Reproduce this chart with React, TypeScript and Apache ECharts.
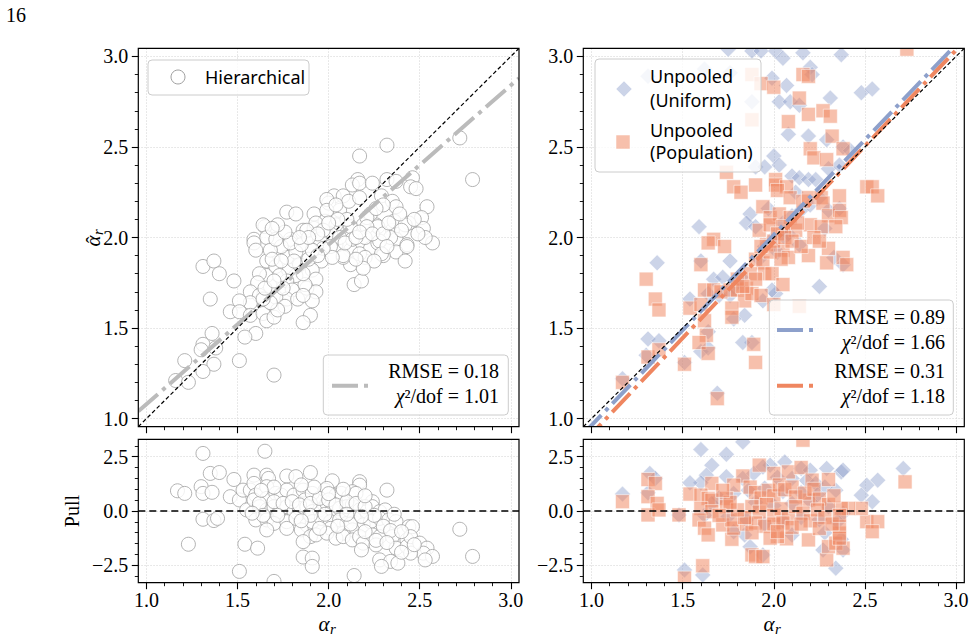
import { useEffect, useRef } from "react";
import * as echarts from "echarts";

// ---- axes -------------------------------------------------------------
const alphaRange = [0.955, 3.045];
const pullRange = [-3.3, 3.3];
const alphaTicks = [1.0, 1.5, 2.0, 2.5, 3.0];
const pullTicks = [-2.5, 0.0, 2.5];

// ---- hierarchical model: estimate vs truth, and pull -------------------
const hierEstimate = [
  [2.72, 2.55], [2.32, 2.51], [2.17, 2.45], [2.79, 2.32],
  [2.16, 2.32], [2.13, 2.29], [2.17, 2.3], [2.24, 2.3], [2.32, 2.32], [2.37, 2.31], [2.46, 2.33], [2.45, 2.28], [2.48, 2.27],
  [2.03, 2.23], [2.08, 2.23], [2.0, 2.19], [2.06, 2.15], [2.11, 2.2], [2.17, 2.22], [2.29, 2.23], [2.35, 2.2], [2.37, 2.17],
  [2.54, 2.17], [2.51, 2.11], [1.77, 2.14], [1.82, 2.13], [1.92, 2.13], [1.98, 2.09], [2.3, 2.18], [2.26, 2.07], [2.23, 2.13],
  [2.44, 2.08], [2.52, 2.05], [1.65, 2.06], [1.64, 2.07], [1.86, 2.04], [2.04, 2.07], [2.19, 2.07], [2.35, 2.04], [1.59, 1.99],
  [1.66, 2.0], [1.79, 1.99], [2.57, 1.97], [1.92, 2.05], [2.01, 2.02], [2.12, 2.06], [2.27, 2.06], [2.53, 2.0], [2.37, 1.99],
  [2.43, 1.96], [2.37, 1.92], [2.42, 1.87], [2.3, 1.9], [2.23, 1.94], [2.27, 1.97], [2.12, 1.93], [2.17, 1.91], [2.12, 1.85],
  [2.14, 1.74], [2.18, 1.76], [2.04, 1.96], [2.08, 1.89], [1.96, 1.98], [1.96, 1.87], [1.91, 1.82], [1.93, 1.77], [1.88, 1.72],
  [1.93, 1.7], [1.91, 1.65], [1.9, 1.57], [1.86, 1.53], [1.87, 1.74], [1.82, 1.79], [1.78, 1.82], [1.77, 1.76], [1.8, 1.71],
  [1.77, 1.66], [1.71, 1.67], [1.68, 1.73], [1.66, 1.79], [1.66, 1.87], [1.71, 1.84], [1.77, 1.89], [1.82, 1.92], [1.74, 1.95],
  [1.68, 1.93], [1.71, 1.99], [1.79, 1.97], [1.59, 1.97], [1.6, 1.93], [1.62, 1.8], [1.61, 1.75], [1.57, 1.7], [1.62, 1.68],
  [1.57, 1.64], [1.51, 1.65], [1.46, 1.59], [1.51, 1.59], [1.57, 1.57], [1.64, 1.58], [1.66, 1.54], [1.7, 1.56], [1.6, 1.47],
  [1.54, 1.45], [1.48, 1.76], [1.31, 1.84], [1.37, 1.87], [1.4, 1.8], [1.35, 1.66], [1.36, 1.47], [1.31, 1.41], [1.3, 1.38],
  [1.38, 1.39], [1.37, 1.3], [1.31, 1.26], [1.21, 1.32], [1.16, 1.21], [1.23, 1.2], [1.51, 1.32], [1.7, 1.24],
  [2.1, 2.1], [2.21, 2.11], [2.26, 2.16], [2.36, 2.09], [2.42, 2.07], [2.21, 2.06], [2.34, 2.0], [2.28, 1.98], [2.2, 2.0],
  [2.13, 1.99], [2.06, 2.0], [2.43, 1.95], [2.29, 1.91], [2.2, 1.89], [2.08, 1.9], [2.01, 1.95], [2.02, 1.89], [1.95, 1.99],
  [1.97, 1.94], [1.99, 2.21], [1.99, 2.15], [2.04, 2.18], [1.93, 2.08], [1.88, 2.04], [1.97, 2.04],
  [1.69, 1.88], [1.73, 1.79], [1.75, 1.72], [1.84, 1.85], [1.86, 1.8], [1.89, 1.88], [1.91, 1.93], [1.94, 1.9], [1.85, 1.96],
  [1.81, 1.87], [1.76, 1.62], [1.72, 1.6], [1.68, 1.64], [1.64, 1.66], [1.83, 1.66], [1.86, 1.68], [2.09, 1.97], [2.15, 2.0],
  [2.17, 2.03], [2.24, 2.02], [2.3, 2.02], [2.33, 2.08], [2.39, 2.13], [2.4, 2.04], [2.47, 2.1], [2.49, 2.02], [2.32, 1.95],
  [2.25, 1.87], [2.19, 1.83], [2.15, 1.88], [2.05, 2.1], [2.0, 2.08], [1.94, 2.02], [1.89, 2.0], [1.84, 2.0], [1.76, 2.03],
  [1.72, 2.07], [1.69, 2.05], [1.65, 1.72], [1.7, 1.76], [1.74, 1.87],
];

const hierPull = [
  [1.59, 1.65], [1.66, 1.65], [1.67, 1.5], [1.77, 1.61], [1.82, 1.58], [1.9, 1.77], [2.02, 1.39], [2.17, 1.35], [2.17, 1.19],
  [1.17, 0.93], [1.21, 0.81], [1.3, 1.12], [1.31, 0.81], [1.36, 0.86], [1.48, 1.45], [1.46, 0.66], [1.51, 0.51], [1.53, 0.96],
  [1.57, 0.96], [1.59, 1.27], [1.6, 0.73], [1.66, 1.12], [1.66, 0.58], [1.71, 0.81], [1.74, 0.73], [1.77, 0.96], [1.81, 0.73],
  [1.86, 0.96], [1.87, 0.51], [1.91, 0.81], [1.98, 0.96], [1.99, 1.04], [2.04, 0.73], [2.07, 0.81], [2.11, 0.66], [2.13, 0.89],
  [2.15, 0.81], [2.24, 0.43], [2.32, 0.96],
  [1.55, 0.05], [1.59, 0.51], [1.62, 0.2], [1.66, 0.05], [1.7, 0.2], [1.73, -0.03], [1.77, 0.2], [1.81, -0.03], [1.84, 0.12],
  [1.88, 0.2], [1.91, -0.03], [1.95, 0.05], [1.99, 0.35], [2.02, 0.05], [2.06, 0.12], [2.1, 0.2], [2.13, 0.28], [2.17, 0.05],
  [2.21, -0.03], [2.24, 0.2], [2.28, -0.03], [2.31, 0.05],
  [1.31, -0.38], [1.37, -0.44], [1.39, -0.34], [1.6, -0.41], [1.66, -0.41], [1.7, -0.57], [1.77, -0.49], [1.82, -0.34],
  [1.88, -0.64], [1.91, -0.49], [1.96, -0.34], [2.01, -0.49], [2.06, -0.41], [2.1, -0.57], [2.14, -0.34], [2.19, -0.64],
  [2.23, -0.49], [2.28, -0.34], [2.33, -0.41], [2.37, -0.49], [2.44, -0.72], [2.46, -0.72], [2.13, -0.87], [2.08, -1.02],
  [2.01, -0.8], [1.77, -0.8], [1.66, -0.87],
  [1.85, -0.87], [1.9, -1.18], [1.93, -1.1], [1.99, -1.02], [2.04, -1.25], [2.08, -1.18], [2.13, -1.33], [2.17, -1.18],
  [2.19, -1.48], [2.24, -1.1], [2.28, -1.18], [2.26, -1.56], [2.35, -1.18], [2.37, -1.71], [2.43, -1.33], [2.43, -1.64],
  [2.45, -1.18], [2.5, -1.48], [2.54, -1.71], [2.52, -1.94], [2.57, -2.09], [2.53, -2.25], [2.45, -1.94], [2.18, -1.79],
  [1.86, -1.41],
  [1.23, -1.53], [1.54, -1.53], [1.61, -1.71], [1.51, -2.78], [1.7, -3.24], [1.86, -2.12], [1.91, -2.17], [1.91, -2.55],
  [2.14, -2.97], [2.28, -2.25], [2.34, -2.32], [2.38, -2.4], [2.29, -2.55], [2.72, -0.84], [2.79, -2.09], [1.31, 2.65],
  [1.65, 2.75], [1.35, 1.73], [1.4, 1.77],
  [1.62, 0.35], [1.7, 0.43], [1.75, 0.35], [1.8, 0.43], [1.84, 0.28], [1.9, 0.35], [1.95, 0.58], [2.0, 0.51], [2.04, 0.28],
  [2.1, 0.43], [2.15, 0.35], [2.2, 0.2], [2.25, -0.2], [2.3, -0.7], [2.34, -0.9], [2.4, -0.95], [2.2, -0.95], [2.12, -0.6],
  [2.05, -0.7], [1.95, -0.8], [1.9, -0.2], [1.85, -0.45], [1.72, -0.2], [1.64, -0.2], [1.58, -0.1], [1.98, -0.15], [2.1, -0.15],
  [2.18, -0.25], [2.36, -0.15], [2.0, 0.8], [1.92, 1.1], [1.85, 1.2], [1.7, 1.1], [1.63, 0.95], [2.08, 1.0], [2.2, 0.7],
  [2.26, -1.35], [2.32, -1.45], [2.4, -1.9], [2.47, -1.55],
];

// ---- unpooled fits: uniform prior and population prior ----------------
const uniformEstimate = [
  [1.75, 3.04], [1.88, 3.03], [1.93, 3.03], [2.01, 3.03], [2.16, 3.02], [2.37, 3.01], [2.05, 2.99], [1.62, 2.93], [1.31, 2.89],
  [1.76, 2.91], [1.99, 2.88], [2.07, 2.84], [2.2, 2.94], [2.21, 2.9], [2.48, 2.8], [2.54, 2.82], [2.03, 2.75], [2.09, 2.75],
  [2.14, 2.73], [2.31, 2.77], [1.88, 2.75], [2.08, 2.57], [2.19, 2.56], [2.29, 2.54], [2.38, 2.5], [2.0, 2.45], [1.9, 2.39],
  [1.95, 2.39], [2.1, 2.34], [2.14, 2.33], [2.19, 2.32], [2.23, 2.32], [2.3, 2.38], [2.36, 2.4], [2.42, 2.48], [1.87, 2.13],
  [1.59, 2.06], [1.85, 2.08], [1.9, 2.06], [2.03, 2.4], [2.06, 2.0], [2.14, 1.96], [1.76, 1.87],
  [1.36, 1.86], [1.6, 1.87], [1.67, 1.77], [1.54, 1.66], [1.64, 1.69], [1.78, 1.73], [1.76, 1.68], [1.94, 1.65], [2.01, 1.69],
  [1.99, 1.71], [1.84, 1.57], [1.78, 1.55], [1.88, 1.42], [1.83, 1.42], [1.64, 1.48], [1.6, 1.37], [1.64, 1.39], [1.31, 1.44],
  [1.37, 1.43], [1.3, 1.35], [1.51, 1.31], [1.17, 1.22], [1.69, 1.14], [2.25, 1.73], [2.33, 1.89], [2.38, 1.85],
  [1.95, 1.95], [2.0, 2.0], [2.05, 2.08], [2.1, 2.12], [2.08, 2.02], [2.02, 1.92], [1.92, 1.88], [2.15, 2.15], [2.2, 2.18],
  [2.12, 2.25], [1.97, 2.16], [2.25, 2.22], [2.3, 2.15], [2.28, 2.05], [1.82, 1.78], [1.72, 1.78], [1.7, 1.68], [2.36, 2.16],
];

const populationEstimate = [
  [2.73, 3.04], [1.88, 2.9], [1.93, 2.85], [2.0, 2.83], [2.16, 2.9], [2.19, 2.89], [2.14, 2.77], [1.88, 2.65], [2.08, 2.64],
  [2.19, 2.68], [2.27, 2.7], [2.31, 2.67], [2.2, 2.49], [2.22, 2.44], [2.29, 2.43], [2.32, 2.56], [2.38, 2.49], [1.74, 2.36],
  [1.78, 2.28], [1.82, 2.25], [1.9, 2.29], [1.94, 2.17], [2.01, 2.32], [2.01, 2.29], [2.07, 2.28], [2.02, 2.26], [2.09, 2.22],
  [2.16, 2.2], [2.19, 2.22], [2.26, 2.22], [2.27, 2.19], [2.51, 2.28], [2.54, 2.28], [2.57, 2.23], [2.36, 2.23], [1.98, 2.11],
  [2.03, 2.13], [2.09, 2.11], [2.3, 2.12], [2.36, 2.15], [2.37, 2.11], [1.67, 1.99], [1.92, 2.04], [1.98, 2.07], [2.05, 2.06],
  [2.12, 2.04], [2.2, 2.07], [2.26, 2.06], [2.34, 2.06],
  [1.3, 1.77], [1.35, 1.66], [1.37, 1.6], [1.6, 1.85], [1.64, 1.97], [1.73, 1.95], [1.62, 1.71], [1.67, 1.71], [1.71, 1.7],
  [1.54, 1.61], [1.6, 1.63], [1.76, 1.71], [1.8, 1.71], [1.85, 1.72], [1.84, 1.65], [1.88, 1.69], [1.93, 1.68], [1.77, 1.61],
  [1.77, 1.56], [1.62, 1.54], [1.63, 1.46], [1.59, 1.42], [1.64, 1.36], [1.51, 1.3], [1.89, 1.41], [1.9, 1.31], [2.0, 1.63],
  [2.14, 1.62], [1.31, 1.34], [1.37, 1.38], [1.17, 1.2], [1.69, 1.11], [1.9, 1.88], [1.94, 1.86], [1.95, 1.8], [1.99, 1.8],
  [1.87, 1.8], [1.9, 1.77], [1.8, 1.77], [1.83, 1.73], [2.05, 1.93], [2.08, 1.89], [2.19, 1.9], [2.3, 1.94], [2.29, 1.86],
  [2.38, 1.89], [2.4, 1.85], [2.05, 1.74],
  [1.96, 1.96], [2.0, 1.98], [2.02, 2.02], [2.06, 2.0], [2.1, 1.98], [2.13, 2.08], [1.98, 1.92], [1.93, 1.95], [2.04, 1.88],
  [2.15, 1.95], [2.22, 2.0], [2.25, 1.98],
];

const uniformPull = [
  [1.6, 2.83], [1.74, 2.61], [1.83, 3.18], [1.66, 2.11], [1.63, 1.65], [1.6, 1.3], [1.54, 1.3], [1.32, 1.73], [1.35, 1.5],
  [1.17, 0.78], [1.31, 0.84], [2.71, 1.96], [2.57, 1.42], [2.51, 1.19], [2.54, 0.43], [2.48, 0.73], [2.06, 2.26], [1.98, 2.11],
  [2.15, 1.96], [2.2, 1.88], [2.29, 1.96], [2.37, 1.8], [2.38, 1.88], [1.87, -1.64], [1.94, -2.02], [2.27, -1.79],
  [2.34, -2.63], [2.38, -1.79], [1.51, -2.71], [1.61, -2.94], [1.84, -1.1], [1.48, -0.18],
  [1.74, 1.58], [1.83, 1.5], [1.89, 1.73], [1.94, 2.03], [2.02, 1.55], [2.1, 1.5], [2.18, 1.4], [2.23, 1.27], [2.28, 1.1],
  [2.34, 0.96], [2.24, 0.75], [2.15, 0.85], [2.05, 0.9], [1.95, 1.05], [1.86, 0.95], [1.78, 0.8], [1.7, 0.6], [1.66, 0.35],
  [1.9, 0.4], [2.0, 0.25], [2.1, 0.35], [2.2, 0.45], [2.3, 0.2], [2.38, -0.1], [2.35, -0.5], [2.25, -0.4], [2.15, -0.3],
  [2.05, -0.45], [1.95, -0.6], [1.85, -0.4], [1.75, -0.25], [1.62, -0.2], [2.28, -1.0], [2.37, -1.3], [1.78, -0.95],
  [2.1, -1.1],
];

const populationPull = [
  [1.17, 0.43], [1.31, 1.45], [1.35, 1.27], [1.31, 0.66], [1.36, 0.35], [1.31, -0.18], [1.37, 0.05], [1.48, -0.18],
  [1.54, 0.78], [1.61, -2.52], [1.51, -3.09], [1.66, 1.27], [1.6, 0.73], [1.64, 0.58], [1.66, 0.5], [1.6, 0.12],
  [1.66, -0.03], [1.59, -0.41], [1.62, -0.79], [1.64, -1.1], [1.77, -1.3], [1.72, -0.64], [1.78, -0.79], [1.77, -0.41],
  [1.83, 1.61], [1.78, 1.19], [1.74, 0.58], [1.74, 0.2], [1.92, 2.11], [2.0, 1.73], [2.08, 1.8], [2.15, 2.0], [2.16, 3.26],
  [1.88, -2.02], [1.9, -2.1], [1.94, -2.1], [2.07, -1.28], [2.02, -1.18], [2.19, -1.33], [2.29, -2.25], [2.3, -1.64],
  [2.34, -1.48], [2.38, -1.71], [2.36, -1.02], [2.36, -0.72], [2.51, -0.49], [2.57, -0.49], [2.54, -0.95], [2.48, 0.12],
  [2.41, 0.12], [2.37, 0.12], [2.72, 1.34], [2.3, 1.45], [2.21, 1.42], [2.19, 0.5],
  [1.87, 1.1], [1.9, 0.85], [1.93, 0.6], [1.97, 0.95], [2.0, 0.7], [2.03, 1.2], [2.06, 0.98], [2.1, 1.1], [2.12, 0.65],
  [2.17, 0.82], [2.22, 1.0], [2.25, 0.55], [2.3, 0.3], [2.33, 0.7], [1.88, 0.2], [1.92, -0.05], [1.96, 0.3], [2.0, -0.2],
  [2.04, 0.1], [2.08, -0.35], [2.12, 0.2], [2.16, -0.1], [2.2, -0.45], [2.24, 0.05], [2.28, -0.3], [1.85, -0.6], [1.9, -0.55],
  [1.95, -0.7], [2.0, -0.6], [2.05, -0.55], [2.1, -0.75], [2.15, -0.6], [2.25, -0.8], [1.84, -0.3], [1.8, 0.05], [1.76, 0.4],
  [1.72, 0.95], [1.7, -0.2], [1.98, -1.25], [2.02, -0.95], [1.88, -1.0], [2.32, -0.6], [2.36, -0.2], [2.36, -1.25],
];

// ---- reference and fitted lines ---------------------------------------
const identityLine = [[0.955, 0.955], [3.045, 3.045]];
const zeroLine = [[0.955, 0], [3.045, 0]];
const hierFit = [[0.955, 1.04], [3.045, 2.88]];
const uniformFit = [[0.955, 0.915], [3.045, 3.113]];
const populationFit = [[0.955, 0.867], [3.045, 3.083]];

const hierStats = ["0.18", "1.01"];
const uniformStats = ["0.89", "1.66"];
const populationStats = ["0.31", "1.18"];

// ---- styling ----------------------------------------------------------
const SERIF = "'Liberation Serif', 'Times New Roman', serif";
const SANS = "'Noto Sans', 'DejaVu Sans', sans-serif";
const GREY = "#bbbbbb";
const CIRCLE_EDGE = "#a0a0a0";
const BLUE = "#8da0cb";
const ORANGE = "#ef8660";
const DASHDOT = [26, 6, 4, 6];

// panel rectangles (left, top, width, height)
const panels = [
  [138.3, 48.3, 380.7, 378.4],
  [138.3, 439.3, 380.7, 143.4],
  [583.3, 48.3, 381, 378.4],
  [583.3, 439.3, 381, 143.4],
];

const fmt = (v: number) => (v < 0 ? "\u2212" + Math.abs(v).toFixed(1) : v.toFixed(1));

function axisPair(dim: "x" | "y", gridIndex: number, range: number[], ticks: number[], step: number, showLabels: boolean) {
  const main = {
    type: "value",
    gridIndex,
    min: range[0],
    max: range[1],
    position: dim === "x" ? "bottom" : "left",
    minInterval: step,
    maxInterval: step,
    z: 10,
    axisLine: { show: false, onZero: false },
    axisTick: { show: true, customValues: ticks, length: 6.5, lineStyle: { color: "#000", width: 1.1 } },
    minorTick: { show: true, splitNumber: 5, length: 3.5, lineStyle: { color: "#000", width: 0.9 } },
    axisLabel: {
      show: showLabels,
      customValues: ticks,
      formatter: fmt,
      margin: dim === "x" ? 7 : 10,
      fontFamily: SERIF,
      fontSize: 20,
      lineHeight: 20,
      color: "#000",
    },
    splitLine: { show: false },
  };
  const gridLines = {
    type: "value",
    gridIndex,
    min: range[0],
    max: range[1],
    position: dim === "x" ? "top" : "right",
    minInterval: step,
    maxInterval: step,
    z: 0,
    axisLine: { show: false, onZero: false },
    axisTick: { show: false, customValues: ticks },
    minorTick: { show: false },
    axisLabel: { show: false },
    splitLine: { show: true, lineStyle: { color: "#d9d9d9", width: 0.8, type: [1.5, 1.5] } },
  };
  return [main, gridLines];
}

function scatterSeries(data: number[][], axis: number, symbol: string, size: number, itemStyle: object) {
  return {
    type: "scatter",
    data,
    xAxisIndex: axis,
    yAxisIndex: axis,
    symbol,
    symbolSize: size,
    itemStyle,
    silent: true,
    z: 2,
  };
}

function lineSeries(data: number[][], axis: number, color: string, width: number, dash: number[], z = 3) {
  return {
    type: "line",
    data,
    xAxisIndex: axis,
    yAxisIndex: axis,
    showSymbol: false,
    symbol: "none",
    silent: true,
    clip: true,
    z,
    lineStyle: { color, width, type: dash, cap: "butt" },
  };
}

function alphaLabel(x: number, y: number, vertical: boolean, hat: boolean) {
  const children: any[] = [
    { type: "text", z: 12, x: 0, y: 0, style: { text: "α", fontFamily: SERIF, fontStyle: "italic", fontSize: 21, lineHeight: 16, fill: "#000", textAlign: "center", textVerticalAlign: "middle" } },
    { type: "text", z: 12, x: 6, y: 5, style: { text: "r", fontFamily: SERIF, fontStyle: "italic", fontSize: 15, lineHeight: 12, fill: "#000", textAlign: "left", textVerticalAlign: "middle" } },
  ];
  if (hat) {
    children.push({ type: "text", z: 12, x: 1, y: 1, style: { text: "ˆ", fontFamily: SERIF, fontSize: 20, lineHeight: 14, fill: "#000", textAlign: "center", textVerticalAlign: "middle" } });
  }
  return { type: "group", x, y, rotation: vertical ? Math.PI / 2 : 0, z: 12, children };
}

function statText(x: number, y: number, rmse: string, chi: string) {
  return [
    { type: "text", z: 13, style: { x, y, text: "RMSE = " + rmse, fontFamily: SERIF, fontSize: 20, fill: "#000", textAlign: "right", textVerticalAlign: "middle" } },
    {
      type: "text",
      z: 13,
      style: {
        x,
        y: y + 25,
        text: "{i|χ}{n|²/dof = " + chi + "}",
        textAlign: "right",
        textVerticalAlign: "middle",
        rich: {
          i: { fontFamily: SERIF, fontStyle: "italic", fontSize: 20, fill: "#000" },
          n: { fontFamily: SERIF, fontSize: 20, fill: "#000" },
        },
      },
    },
  ];
}

function legendBox(x: number, y: number, w: number, h: number) {
  return { type: "rect", z: 12, shape: { x, y, width: w, height: h, r: 4 }, style: { fill: "rgba(255,255,255,0.8)", stroke: "#cccccc", lineWidth: 1 } };
}

function legendLine(x: number, y: number, color: string) {
  return { type: "line", z: 13, shape: { x1: x, y1: y, x2: x + 38, y2: y }, style: { stroke: color, lineWidth: 4, lineDash: DASHDOT, lineCap: "butt" } };
}

function sansText(x: number, y: number, text: string) {
  return { type: "text", z: 13, style: { x, y, text, fontFamily: SANS, fontSize: 18, fill: "#000", textAlign: "left", textVerticalAlign: "middle" } };
}

export default function App() {
  const ref = useRef<HTMLDivElement>(null);

  useEffect(() => {
    if (!ref.current) return;
    const chart = echarts.init(ref.current, null, { renderer: "svg" });

    const xAxis = [
      ...axisPair("x", 0, alphaRange, alphaTicks, 0.5, false),
      ...axisPair("x", 1, alphaRange, alphaTicks, 0.5, true),
      ...axisPair("x", 2, alphaRange, alphaTicks, 0.5, false),
      ...axisPair("x", 3, alphaRange, alphaTicks, 0.5, true),
    ];
    const yAxis = [
      ...axisPair("y", 0, alphaRange, alphaTicks, 0.5, true),
      ...axisPair("y", 1, pullRange, pullTicks, 2.5, true),
      ...axisPair("y", 2, alphaRange, alphaTicks, 0.5, true),
      ...axisPair("y", 3, pullRange, pullTicks, 2.5, true),
    ];

    const circleStyle = { color: "#ffffff", borderColor: CIRCLE_EDGE, borderWidth: 1 };
    const diamondStyle = { color: BLUE, opacity: 0.45, borderColor: "#ffffff", borderWidth: 1 };
    const squareStyle = { color: ORANGE, opacity: 0.52, borderColor: "#ffffff", borderWidth: 1 };

    const series = [
      scatterSeries(hierEstimate, 0, "circle", 14, circleStyle),
      lineSeries(hierFit, 0, GREY, 4, DASHDOT),
      lineSeries(identityLine, 0, "#000", 1.2, [4, 2.5], 4),

      scatterSeries(hierPull, 2, "circle", 14, circleStyle),
      lineSeries(zeroLine, 2, "#000", 1.7, [7, 4], 4),

      scatterSeries(uniformEstimate, 4, "diamond", 16, diamondStyle),
      scatterSeries(populationEstimate, 4, "rect", 14, squareStyle),
      lineSeries(uniformFit, 4, BLUE, 4, DASHDOT),
      lineSeries(populationFit, 4, ORANGE, 4, DASHDOT),
      lineSeries(identityLine, 4, "#000", 1.2, [4, 2.5], 4),

      scatterSeries(uniformPull, 6, "diamond", 16, diamondStyle),
      scatterSeries(populationPull, 6, "rect", 14, squareStyle),
      lineSeries(zeroLine, 6, "#000", 1.7, [7, 4], 4),
    ];

    // white margins hide marks that spill over the panel edges
    const masks = [
      [0, 0, 975, 48.3],
      [0, 426.7, 975, 12.6],
      [0, 582.7, 975, 58.3],
      [0, 0, 138.3, 641],
      [519, 0, 64.3, 641],
      [964.3, 0, 10.7, 641],
    ].map(([x, y, w, h]) => ({ type: "rect", z: 5, silent: true, shape: { x, y, width: w, height: h }, style: { fill: "#ffffff" } }));

    const frames = panels.map(([x, y, w, h]) => ({
      type: "rect",
      z: 11,
      silent: true,
      shape: { x, y, width: w, height: h },
      style: { fill: "none", stroke: "#000", lineWidth: 1.2 },
    }));

    const graphic = [
      ...masks,
      ...frames,
      { type: "text", z: 12, style: { x: 6, y: 15, text: "16", fontFamily: SERIF, fontSize: 20, fill: "#000", textVerticalAlign: "middle" } },
      alphaLabel(93, 241, true, true),
      { type: "group", x: 72, y: 511, rotation: Math.PI / 2, z: 12, children: [
        { type: "text", z: 12, style: { x: 0, y: 0, text: "Pull", fontFamily: SERIF, fontSize: 20, fill: "#000", textAlign: "center", textVerticalAlign: "middle" } },
      ] },
      alphaLabel(324, 624, false, false),
      alphaLabel(769, 624, false, false),

      // hierarchical legends
      legendBox(148, 60, 161, 35),
      { type: "circle", z: 13, shape: { cx: 178, cy: 77, r: 7 }, style: { fill: "#fff", stroke: CIRCLE_EDGE, lineWidth: 1 } },
      sansText(205, 77, "Hierarchical"),
      legendBox(323.3, 355, 185, 60),
      legendLine(332, 385.7, GREY),
      ...statText(499, 371, hierStats[0], hierStats[1]),

      // unpooled legends
      legendBox(595, 59, 166, 113),
      { type: "polygon", z: 13, shape: { points: [[624, 81], [632, 89], [624, 97], [616, 89]] }, style: { fill: BLUE, opacity: 0.45, stroke: "#fff", lineWidth: 1 } },
      sansText(650, 75.5, "Unpooled"),
      sansText(650, 99.5, "(Uniform)"),
      { type: "rect", z: 13, shape: { x: 616, y: 135, width: 14, height: 14 }, style: { fill: ORANGE, opacity: 0.52, stroke: "#fff", lineWidth: 1 } },
      sansText(650, 129.5, "Unpooled"),
      sansText(650, 151.5, "(Population)"),
      legendBox(769.3, 300, 184, 115),
      legendLine(777, 330, BLUE),
      ...statText(945, 316.5, uniformStats[0], uniformStats[1]),
      legendLine(777, 385.7, ORANGE),
      ...statText(945, 371, populationStats[0], populationStats[1]),
    ];

    chart.setOption({
      animation: false,
      backgroundColor: "#ffffff",
      grid: panels.map(([left, top, width, height]) => ({ left, top, width, height, containLabel: false, outerBoundsMode: "none" })),
      xAxis,
      yAxis,
      series,
      graphic,
    });

    return () => chart.dispose();
  }, []);

  return <div ref={ref} style={{ position: "absolute", left: 0, top: 0, width: 975, height: 641, background: "#fff" }} />;
}
